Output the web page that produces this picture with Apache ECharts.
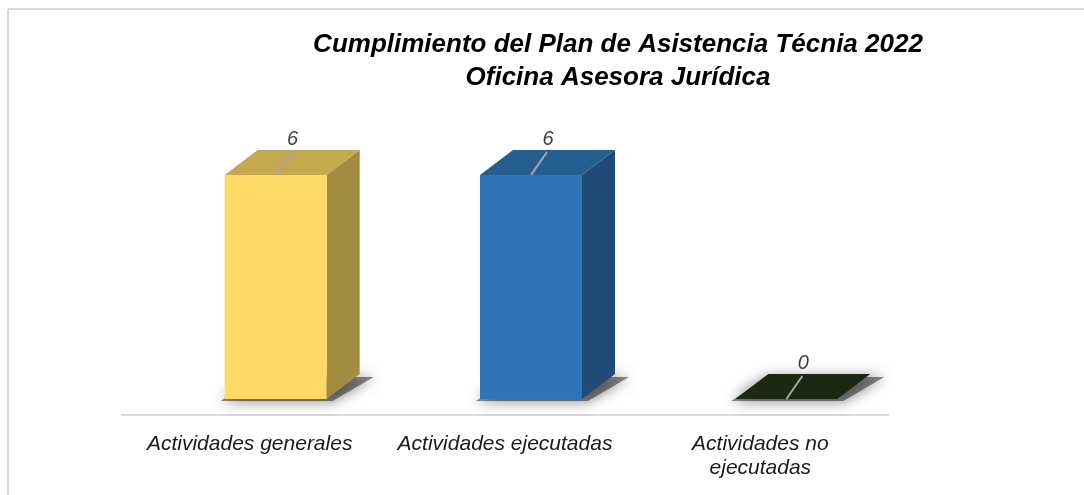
<!DOCTYPE html>
<html>
<head>
<meta charset="utf-8">
<script src="https://cdn.jsdelivr.net/npm/echarts@6/dist/echarts.min.js"></script>
<style>
  body { margin: 0; background: #fff; }
  #chart { width: 1084px; height: 495px; }
</style>
</head>
<body>
<div id="chart"></div>
<script>
// datos del grafico
var categories = ['Actividades generales', 'Actividades ejecutadas', 'Actividades no\nejecutadas'];
var values = [6, 6, 0];
var titleLines = ['Cumplimiento del Plan de Asistencia Técnia 2022', 'Oficina Asesora Jurídica'];

// colores de cada caja: frente, tapa, lado
var frontColors = ['#FFD966', '#2E75B6', '#1C2812'];
var topColors = ['#C6A84E', '#255E91', '#1C2812'];
var sideColors = ['#A38B40', '#1F4B76', '#1C2812'];

var myChart = echarts.init(document.getElementById('chart'));

function renderBox(params, api) {
    var i = api.value(0);
    var base = api.coord([i, 0]);
    var top = api.coord([i, api.value(1)]);
    var x0 = base[0] - 25, x1 = x0 + 102;
    var y0 = base[1], y1 = top[1];
    var dx = 33, dy = -25;
    var fc = (x0 + x1) / 2;
    var children = [
        // sombra difusa
        {
            type: 'polygon',
            shape: { points: [[x0 - 4, y0 + 2], [x1 + 6, y0 + 2], [x1 + dx + 14, y0 + dy + 3], [x0 + dx - 2, y0 + dy + 3]] },
            style: { fill: 'rgba(40,40,40,0.55)', shadowBlur: 14, shadowColor: 'rgba(0,0,0,0.9)', shadowOffsetX: 0, shadowOffsetY: 0 }
        },
        // lado
        {
            type: 'polygon',
            shape: { points: [[x1, y0], [x1 + dx, y0 + dy], [x1 + dx, y1 + dy], [x1, y1]] },
            style: { fill: sideColors[i] }
        },
        // tapa
        {
            type: 'polygon',
            shape: { points: [[x0, y1], [x1, y1], [x1 + dx, y1 + dy], [x0 + dx, y1 + dy]] },
            style: { fill: topColors[i] }
        },
        // frente
        {
            type: 'rect',
            shape: { x: x0, y: y1, width: x1 - x0, height: y0 - y1 },
            style: { fill: frontColors[i] }
        },
        // linea guia
        {
            type: 'line',
            shape: { x1: fc, y1: y1, x2: fc + 16, y2: y1 - 23 },
            style: { stroke: '#A6A6A6', lineWidth: 2 }
        },
        // etiqueta
        {
            type: 'text',
            style: {
                text: String(api.value(1)),
                x: fc + 17, y: y1 - 36,
                align: 'center', verticalAlign: 'middle',
                font: 'italic 20px "Liberation Sans", Arial, sans-serif',
                fill: '#404040'
            }
        }
    ];
    return { type: 'group', children: children };
}

var option = {
    animation: false,
    grid: { left: 122, right: 196, top: 175, bottom: 96 },
    graphic: [
        { type: 'line', shape: { x1: 8, y1: 9, x2: 1084, y2: 9 }, style: { stroke: '#D9D9D9', lineWidth: 2 } },
        { type: 'line', shape: { x1: 8, y1: 9, x2: 8, y2: 495 }, style: { stroke: '#D9D9D9', lineWidth: 2 } },
        {
            type: 'text', x: 618, y: 45,
            style: {
                text: titleLines[0], align: 'center', verticalAlign: 'middle',
                font: 'italic bold 26px "Liberation Sans", Arial, sans-serif', fill: '#000'
            }
        },
        {
            type: 'text', x: 618, y: 78,
            style: {
                text: titleLines[1], align: 'center', verticalAlign: 'middle',
                font: 'italic bold 26px "Liberation Sans", Arial, sans-serif', fill: '#000'
            }
        }
    ],
    xAxis: {
        type: 'category',
        data: categories,
        offset: 16,
        axisLine: { onZero: false, lineStyle: { color: '#D9D9D9', width: 2 } },
        axisTick: { show: false },
        axisLabel: {
            interval: 0,
            margin: 17,
            fontSize: 21,
            fontStyle: 'italic',
            fontFamily: '"Liberation Sans", Arial, sans-serif',
            color: '#1a1a1a',
            lineHeight: 24
        }
    },
    yAxis: {
        type: 'value',
        min: 0,
        max: 6,
        show: false
    },
    series: [
        {
            type: 'custom',
            renderItem: renderBox,
            encode: { x: 0, y: 1 },
            data: values.map(function (v, i) { return [i, v]; })
        }
    ]
};

myChart.setOption(option);
</script>
</body>
</html>
